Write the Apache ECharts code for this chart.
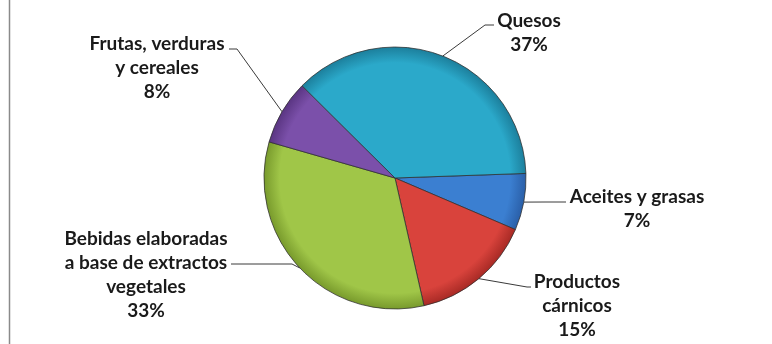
<!DOCTYPE html>
<html>
<head>
<meta charset="utf-8">
<script src="https://cdn.jsdelivr.net/npm/echarts@6/dist/echarts.min.js"></script>
<style>
html,body{margin:0;padding:0;background:#fff;}
#chart{width:772px;height:344px;}
</style>
</head>
<body>
<div id="chart"></div>
<script>
const categories = ['Aceites y grasas', 'Productos\ncárnicos', 'Bebidas elaboradas\na base de extractos\nvegetales', 'Frutas, verduras\ny cereales', 'Quesos'];
const values = [7, 15, 33, 8, 37];
const baseColors = ['#3b7fd1', '#d9433c', '#a0c648', '#7b50aa', '#2ba9ca'];
const edgeColors = ['#2a5fa8', '#a82a25', '#789a2c', '#5a3582', '#1c7f9c'];

const CX = 395, CY = 178, R = 131;

// label anchor (center x, top y) and leader-line bend/end points, per category
const labelBoxes = [
  {x: 637, y: 185, bend: [545, 202], end: [566, 202]},
  {x: 577, y: 270, bend: [527, 287], end: [531, 287]},
  {x: 146, y: 227, bend: [292, 264], end: [231, 264]},
  {x: 157, y: 32,  bend: [237, 49],  end: [229, 49]},
  {x: 529, y: 9,   bend: [485, 25],  end: [494, 25]}
];

const chart = echarts.init(document.getElementById('chart'), null, {renderer: 'canvas'});

const data = categories.map((c, i) => ({
  name: c,
  value: values[i],
  itemStyle: {
    color: {
      type: 'radial', x: CX, y: CY, r: R, global: true,
      colorStops: [
        {offset: 0, color: baseColors[i]},
        {offset: 0.88, color: baseColors[i]},
        {offset: 1, color: edgeColors[i]}
      ]
    }
  }
}));

chart.setOption({
  backgroundColor: '#ffffff',
  animation: false,
  graphic: [{
    type: 'line',
    shape: {x1: 9.5, y1: 0, x2: 9.5, y2: 344},
    style: {stroke: '#8a8a8a', lineWidth: 1.5}
  }],
  series: [{
    type: 'pie',
    center: [CX, CY],
    radius: [0, R],
    startAngle: 2,
    clockwise: true,
    data: data,
    itemStyle: {
      borderColor: 'rgba(45,45,45,0.75)',
      borderWidth: 1
    },
    label: {
      show: true,
      position: 'outside',
      formatter: p => p.name + '\n' + Math.round(p.percent) + '%',
      fontFamily: 'Lato',
      fontWeight: 'bold',
      fontSize: 19,
      lineHeight: 24,
      color: '#1a1a1a',
      align: 'center'
    },
    labelLine: {
      show: true,
      lineStyle: {color: '#3a3a3a', width: 1}
    },
    labelLayout: function (params) {
      const b = labelBoxes[params.dataIndex];
      const start = params.labelLinePoints ? params.labelLinePoints[0] : [CX, CY];
      return {
        x: b.x,
        y: b.y,
        align: 'center',
        verticalAlign: 'top',
        labelLinePoints: [start, b.bend, b.end]
      };
    },
    emphasis: {disabled: true}
  }]
});
</script>
</body>
</html>
